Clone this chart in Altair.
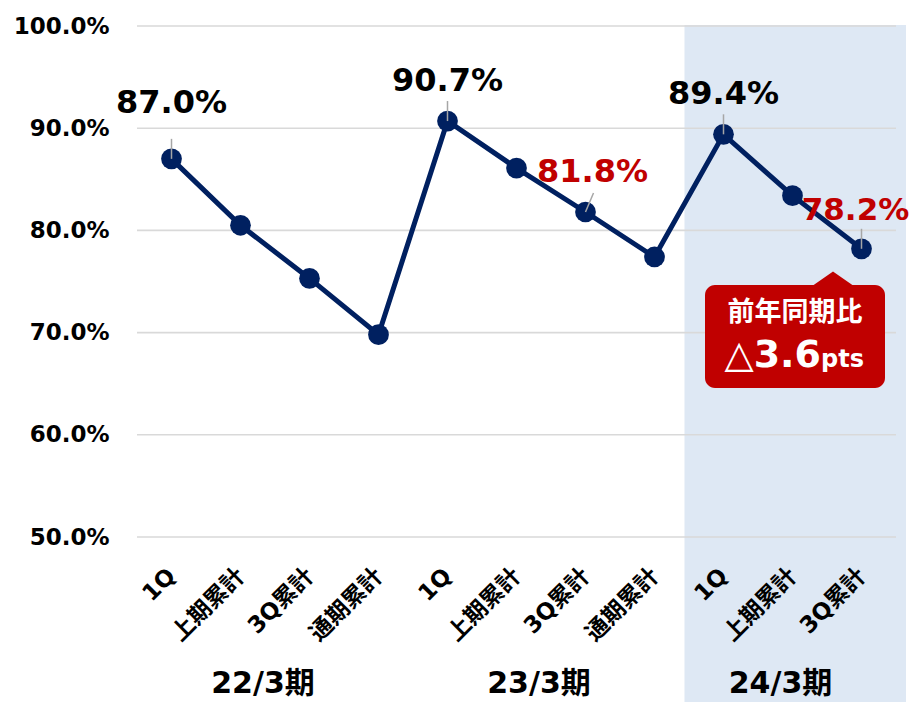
import json
import altair as alt
import pandas as pd

# ---- data ----
periods = ["22/3期"] * 4 + ["23/3期"] * 4 + ["24/3期"] * 3
quarters = ["1Q", "上期累計", "3Q累計", "通期累計",
            "1Q", "上期累計", "3Q累計", "通期累計",
            "1Q", "上期累計", "3Q累計"]
values = [87.0, 80.5, 75.3, 69.8, 90.7, 86.1, 81.8, 77.4, 89.4, 83.4, 78.2]
label_kind = ["base", "", "", "", "base", "", "compare", "", "base", "", "compare"]
y_ticks = [50, 60, 70, 80, 90, 100]
highlight_period = "24/3期"
callout_title = "前年同期比"
callout_value = "△3.6"
callout_unit = "pts"

# ---- style ----
W, H = 759, 511
PAD = {"left": 129, "top": 18, "right": 14, "bottom": 165}
FONT = "DejaVu Sans, Noto Sans CJK JP"
NAVY = "#002060"
RED = "#C00000"
BAND = "#DEE8F4"
GRID = "#D9D9D9"

df = pd.DataFrame({
    "idx": list(range(len(values))),
    "period": periods,
    "quarter": quarters,
    "value": values,
    "kind": label_kind,
})
df["label"] = df["value"].map(lambda v: f"{v:.1f}%")

xscale = alt.Scale(domain=[-0.5, len(values) - 0.5], nice=False, zero=False)
yscale = alt.Scale(domain=[min(y_ticks), max(y_ticks)], nice=False, zero=False)

x_axis = alt.Axis(
    values=list(range(len(values))),
    labelExpr=json.dumps(quarters, ensure_ascii=False) + "[datum.value]",
    labelAngle=-45, labelAlign="right", labelBaseline="middle",
    labelFont=FONT, labelFontSize=23, labelFontWeight="bold", labelColor="black",
    labelPadding=35, labelOverlap=False, labelFlush=False, labelBound=False,
    grid=False, domain=False, ticks=False, title=None, zindex=2,
)
y_axis = alt.Axis(
    values=y_ticks,
    labelExpr="format(datum.value, '.1f') + '%'",
    labelFont=FONT, labelFontSize=23, labelFontWeight="bold", labelColor="black",
    labelPadding=28, grid=False, domain=False, ticks=False, title=None, zindex=2,
)

X = alt.X("idx:Q", scale=xscale, axis=x_axis)
Y = alt.Y("value:Q", scale=yscale, axis=y_axis)

base = alt.Chart(df)

band = (
    base.transform_filter(alt.datum.period == highlight_period)
    .transform_aggregate(lo="min(idx)")
    .transform_calculate(x0="datum.lo - 0.5")
    .mark_rect(color=BAND, xOffset=-4.5)
    .encode(x=alt.X("x0:Q", scale=xscale, axis=x_axis),
            x2=alt.value(W + 10), y=alt.value(-1), y2=alt.value(H + PAD["bottom"]))
)

grid = (
    alt.Chart(pd.DataFrame({"t": y_ticks}))
    .mark_rule(color=GRID, strokeWidth=1.6)
    .encode(y=alt.Y("t:Q", scale=yscale, axis=y_axis))
)

line = base.mark_line(color=NAVY, strokeWidth=5).encode(x=X, y=Y)

points = base.mark_circle(size=430, color=NAVY, opacity=1).encode(x=X, y=Y)

labeled = base.transform_filter("datum.kind != ''")
side_cmp = f"datum.kind == 'compare' && datum.period != '{highlight_period}'"
last_cmp = f"datum.kind == 'compare' && datum.period == '{highlight_period}'"

leaders_v = (
    labeled.transform_filter(f"!({side_cmp})")
    .mark_rule(color="#A6A6A6", strokeWidth=1.5, y2Offset=-20)
    .encode(x=X, y=Y, y2="value:Q")
)
leaders_s = (
    labeled.transform_filter(side_cmp)
    .mark_rule(color="#A6A6A6", strokeWidth=1.5, y2Offset=-19, x2Offset=8)
    .encode(x=X, y=Y, x2="idx:Q", y2="value:Q")
)

label_color = alt.Color("kind:N", scale=alt.Scale(domain=["base", "compare"],
                                                  range=["black", RED]), legend=None)

labels_first = (
    labeled.transform_filter("datum.idx == 0")
    .mark_text(font=FONT, fontSize=32, fontWeight="bold", dy=-46, baseline="alphabetic")
    .encode(x=X, y=Y, text="label:N", color=label_color)
)
labels_rest = (
    labeled.transform_filter("datum.idx != 0 && datum.kind == 'base'")
    .mark_text(font=FONT, fontSize=32, fontWeight="bold", dy=-30, baseline="alphabetic")
    .encode(x=X, y=Y, text="label:N", color=label_color)
)
labels_side = (
    labeled.transform_filter(side_cmp)
    .mark_text(font=FONT, fontSize=32, fontWeight="bold", dy=-30, dx=7,
               baseline="alphabetic")
    .encode(x=X, y=Y, text="label:N", color=label_color)
)
labels_last = (
    labeled.transform_filter(last_cmp)
    .mark_text(font=FONT, fontSize=31, fontWeight="bold", dy=-29, dx=-6,
               baseline="alphabetic")
    .encode(x=X, y=Y, text="label:N", color=label_color)
)

# period group labels
groups = (
    base.transform_aggregate(center="mean(idx)", groupby=["period"])
    .mark_text(font=FONT, fontSize=30, fontWeight="bold", color="black",
               baseline="middle", dx=-12)
    .encode(x=alt.X("center:Q", scale=xscale, axis=x_axis), y=alt.value(658),
            text="period:N")
)

# callout
c_df = pd.DataFrame({"title": [callout_title], "val": [callout_value],
                     "unit": [callout_unit]})
cbase = alt.Chart(c_df)
c_box = cbase.mark_rect(color=RED, cornerRadius=10).encode(
    x=alt.value(568), x2=alt.value(748), y=alt.value(259), y2=alt.value(362))
c_ptr = cbase.mark_point(shape="M -1 0.35 L 0 -0.35 L 1 0.35 Z", size=1849,
                         filled=True, color=RED, opacity=1, strokeWidth=0).encode(
    x=alt.value(696), y=alt.value(253))
c_title = cbase.mark_text(font=FONT, fontSize=27, fontWeight="bold", color="white",
                          baseline="middle", align="center").encode(
    x=alt.value(658), y=alt.value(287), text="title:N")
c_val = cbase.mark_text(font=FONT, fontSize=38, fontWeight="bold", color="white",
                        baseline="alphabetic", align="right").encode(
    x=alt.value(684), y=alt.value(341), text="val:N")
c_unit = cbase.mark_text(font=FONT, fontSize=24, fontWeight="bold", color="white",
                         baseline="alphabetic", align="left").encode(
    x=alt.value(684), y=alt.value(341), text="unit:N")

chart = (
    alt.layer(band, grid, line, points, leaders_v, leaders_s,
              labels_first, labels_rest, labels_side, labels_last, groups,
              c_box, c_ptr, c_title, c_val, c_unit)
    .properties(width=W, height=H, autosize=alt.AutoSizeParams(type="none"),
                padding=PAD, background="white")
    .configure_view(stroke=None)
)

chart.save("out.html", embed_options={"renderer": "svg", "actions": False})
